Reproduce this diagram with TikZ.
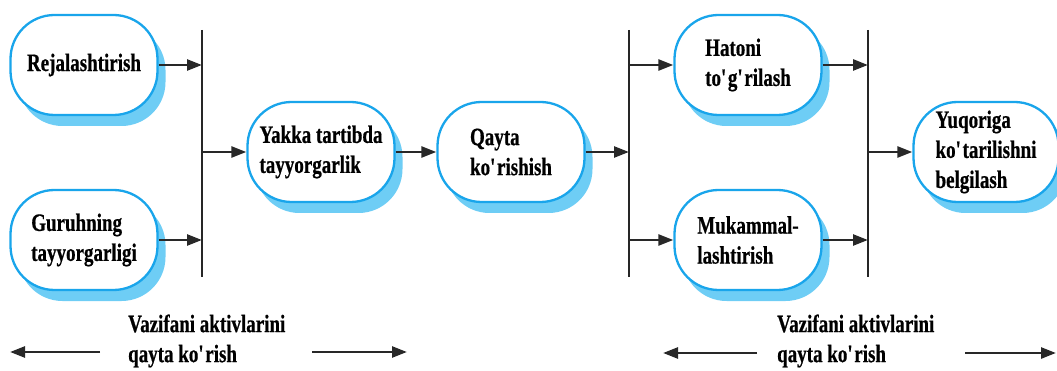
\documentclass[tikz,border=0pt]{standalone}
\usepackage{fontspec}
\setmainfont{Liberation Serif}[FakeStretch=0.76, BoldFeatures={FakeBold=0.6}]
\usetikzlibrary{arrows.meta,shadows}
\definecolor{boxblue}{RGB}{25,165,235}
\definecolor{shadeblue}{RGB}{110,205,245}
\definecolor{linegray}{RGB}{40,40,40}
\newcommand{\ap}{\textquotesingle}
\tikzset{
  labelfont/.style={font=\bfseries\fontsize{25}{30}\selectfont},
  stage/.style={draw=boxblue, line width=2.3pt, fill=white, rounded corners=44pt,
    minimum width=147pt, minimum height=100pt, align=left, inner sep=0pt, labelfont,
    drop shadow={shadow xshift=8pt, shadow yshift=-11pt, fill=shadeblue, opacity=1}},
  flow/.style={draw=linegray, line width=2.6pt, -{Triangle[length=15pt,width=11pt]}},
  bar/.style={draw=black!85, line width=2.6pt},
  note/.style={align=left, inner sep=0pt, anchor=west, labelfont}
}
\begin{document}
\begin{tikzpicture}[x=1pt,y=-1pt]
\useasboundingbox (0,0) rectangle (1057,371);

% stages
\node[stage] (plan)  at (84,65)   {Rejalashtirish};
\node[stage] (group) at (84,240)  {Guruhning\\tayyorgarligi};
\node[stage] (solo)  at (321,152) {Yakka tartibda\\tayyorgarlik};
\node[stage] (review) at (511,152) {Qayta\\ko\ap rishish};
\node[stage] (fix)   at (748,65)  {Hatoni\\to\ap g\ap rilash};
\node[stage] (perf)  at (748,240) {Mukammal-\\lashtirish};
\node[stage, minimum width=145pt] (promo) at (986,152) {Yuqoriga\\ko\ap tarilishni\\belgilash};

% junction bars
\coordinate (b1t) at (202,30);  \coordinate (b1b) at (202,277);
\coordinate (b2t) at (629,30);  \coordinate (b2b) at (629,277);
\coordinate (b3t) at (868,30);  \coordinate (b3b) at (868,277);
\draw[bar] (b1t) -- (b1b);
\draw[bar] (b2t) -- (b2b);
\draw[bar] (b3t) -- (b3b);

% flows
\draw[flow] (plan.east)  -- (plan.east -| b1t);
\draw[flow] (group.east) -- (group.east -| b1t);
\draw[flow] (b1t |- solo.west) -- (solo.west);
\draw[flow] (solo.east) -- (review.west);
\draw[flow] (review.east) -- (review.east -| b2t);
\draw[flow] (b2t |- fix.west) -- (fix.west);
\draw[flow] (b2t |- perf.west) -- (perf.west);
\draw[flow] (fix.east)  -- (fix.east -| b3t);
\draw[flow] (perf.east) -- (perf.east -| b3t);
\draw[flow] (b3t |- promo.west) -- (promo.west);

% review span captions
\node[note] (cap1) at (128,341) {Vazifani aktivlarini\\qayta ko\ap rish};
\node[note] (cap2) at (777,341) {Vazifani aktivlarini\\qayta ko\ap rish};
\coordinate (c1l) at (10,352);  \coordinate (c1ls) at (100,352);
\coordinate (c1r) at (407,352); \coordinate (c1rs) at (312,352);
\coordinate (c2l) at (663,353); \coordinate (c2ls) at (757,353);
\coordinate (c2r) at (1056,353); \coordinate (c2rs) at (965,353);
\draw[flow] (c1ls) -- (c1l);
\draw[flow] (c1rs) -- (c1r);
\draw[flow] (c2ls) -- (c2l);
\draw[flow] (c2rs) -- (c2r);
\end{tikzpicture}
\end{document}
